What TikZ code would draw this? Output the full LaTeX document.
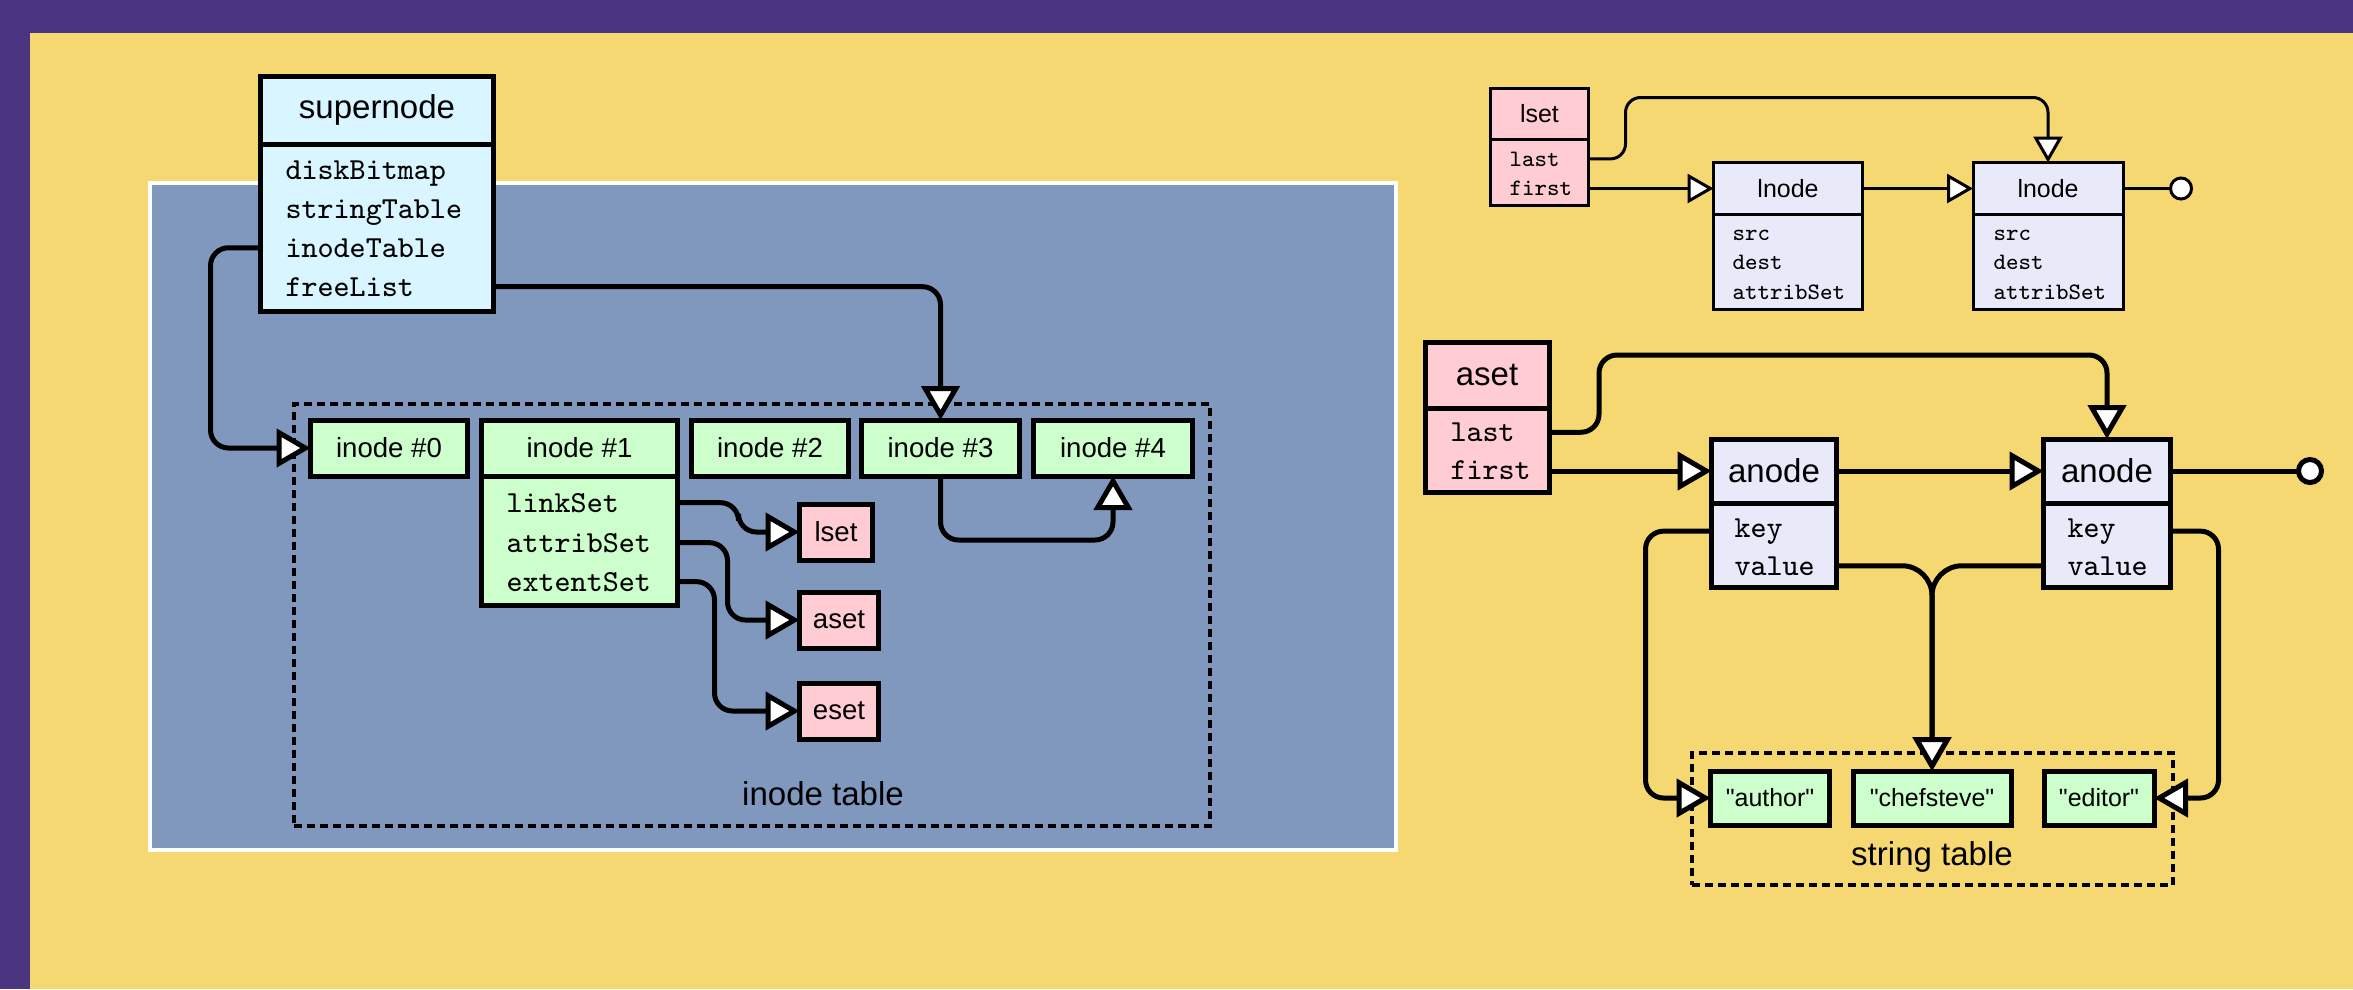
\documentclass[tikz,border=0pt]{standalone}
\usepackage{fontspec}
\setmainfont{Liberation Sans}[Ligatures=TeXOff]
\usetikzlibrary{positioning,arrows.meta}

\definecolor{bgpurple}{RGB}{75,52,128}
\definecolor{bgyellow}{RGB}{245,216,114}
\definecolor{panelblue}{RGB}{128,151,190}
\definecolor{nodegreen}{RGB}{204,255,204}
\definecolor{setpink}{RGB}{255,204,212}
\definecolor{supercyan}{RGB}{217,245,255}
\definecolor{linklav}{RGB}{232,234,250}

\newcommand{\bigtxt}{\fontsize{9.4pt}{11pt}\selectfont}
\newcommand{\midtxt}{\fontsize{7.85pt}{9pt}\selectfont}
\newcommand{\smalltxt}{\fontsize{7.1pt}{8.5pt}\selectfont}
\newcommand{\fieldtxt}{\ttfamily\fontsize{8.7pt}{10pt}\selectfont}
\newcommand{\sfieldtxt}{\ttfamily\fontsize{6.7pt}{8pt}\selectfont}

\begin{document}
\begin{tikzpicture} [line width = 0.05cm,
  box/.style = {draw, outer sep = 0pt, inner sep = 0pt},
  sbox/.style = {box, line width = 0.03cm},
  hdr/.style = {box, minimum height = 0.56cm, font = \midtxt},
  fld/.style = {inner sep = 0pt, anchor = base west, font = \fieldtxt},
  sfld/.style = {inner sep = 0pt, anchor = base west, font = \sfieldtxt},
  tblbox/.style = {draw, line width = 0.04cm, dash pattern = on 0.08cm off 0.05cm, outer sep = 0pt, inner sep = 0pt},
  link/.style = {rounded corners = 0.18cm, -{Triangle[fill=white,length=0.34cm,width=0.38cm]}},
  slink/.style = {line width = 0.03cm, rounded corners = 0.15cm, -{Triangle[fill=white,length=0.26cm,width=0.29cm]}},
  term/.style = {-{Circle[fill=white,length=0.28cm]}},
  sterm/.style = {line width = 0.03cm, -{Circle[fill=white,length=0.24cm]}}]

\useasboundingbox (0,0) rectangle (23.53,-9.89);
\fill [bgpurple] (0,0) rectangle (23.53,-9.89);
\fill [bgyellow] (0.30,-0.33) rectangle (23.53,-9.89);
\draw [white, line width = 0.04cm, fill = panelblue] (1.50,-1.83) rectangle (13.96,-8.50);

\node [tblbox, minimum width = 9.16cm, minimum height = 4.22cm] (itab) at (7.52,-6.15) {};
\node [font = \bigtxt] (itablbl) at (8.23,-7.94) {inode table};

\node [box, fill = supercyan, minimum width = 2.33cm, minimum height = 0.68cm, font = \bigtxt] (super) at (3.77,-1.10) {supernode};
\node [box, fill = supercyan, minimum width = 2.33cm, minimum height = 1.67cm] (superf) [below = 0pt of super] {};
\node [fld] (dbm) at (2.83,-1.79) {diskBitmap};
\node [fld] (stt) at (2.83,-2.18) {stringTable};
\node [fld] (itb) at (2.83,-2.57) {inodeTable};
\node [fld] (frl) at (2.83,-2.96) {freeList};

\node [hdr, fill = nodegreen, minimum width = 1.57cm] (ino0) at (3.89,-4.48) {inode \#0};
\node [hdr, fill = nodegreen, minimum width = 1.96cm] (ino1) [right = 0.14cm of ino0] {inode \#1};
\node [hdr, fill = nodegreen, minimum width = 1.57cm] (ino2) [right = 0.14cm of ino1] {inode \#2};
\node [hdr, fill = nodegreen, minimum width = 1.58cm] (ino3) [right = 0.13cm of ino2] {inode \#3};
\node [hdr, fill = nodegreen, minimum width = 1.59cm] (ino4) [right = 0.14cm of ino3] {inode \#4};

\node [box, fill = nodegreen, minimum width = 1.96cm, minimum height = 1.29cm] (ino1f) [below = 0pt of ino1] {};
\node [fld] (lnk) at (5.04,-5.12) {linkSet};
\node [fld] (atb) at (5.04,-5.52) {attribSet};
\node [fld] (ext) at (5.04,-5.91) {extentSet};

\node [hdr, fill = setpink, minimum width = 0.73cm] (lset) at (8.36,-5.32) {lset};
\node [hdr, fill = setpink, minimum width = 0.79cm] (aset) at (8.39,-6.20) {aset};
\node [hdr, fill = setpink, minimum width = 0.79cm] (eset) at (8.39,-7.11) {eset};

\draw [link] (superf.west |- itb) -- ++(-0.50,0) |- (ino0);
\draw [link] (superf.east |- frl) -| (ino3);
\draw [link] (ino3.south) -- ++(0,-0.64) -| (ino4);
\draw [link] (ino1f.east |- lnk) -- ++(0.61,0) |- (lset);
\draw [link] (ino1f.east |- atb) -- ++(0.50,0) |- (aset);
\draw [link] (ino1f.east |- ext) -- ++(0.37,0) |- (eset);

\node [sbox, fill = setpink, minimum width = 0.98cm, minimum height = 0.51cm, font = \smalltxt] (ls) at (15.395,-1.14) {lset};
\node [sbox, fill = setpink, minimum width = 0.98cm, minimum height = 0.66cm] (lsf) [below = 0pt of ls] {};
\node [sfld] (lslast) at (15.07,-1.66) {last};
\node [sfld] (lsfirst) at (15.07,-1.95) {first};

\node [sbox, fill = linklav, minimum width = 1.49cm, minimum height = 0.52cm, font = \smalltxt] (ln1) at (17.88,-1.885) {lnode};
\node [sbox, fill = linklav, minimum width = 1.49cm, minimum height = 0.95cm] (ln1f) [below = 0pt of ln1] {};
\node [sfld] (ln1src) at (17.30,-2.40) {src};
\node [sfld] (ln1dst) at (17.30,-2.69) {dest};
\node [sfld] (ln1atb) at (17.30,-2.99) {attribSet};

\node [sbox, fill = linklav, minimum width = 1.50cm, minimum height = 0.52cm, font = \smalltxt] (ln2) [right = 1.105cm of ln1] {lnode};
\node [sbox, fill = linklav, minimum width = 1.50cm, minimum height = 0.95cm] (ln2f) [below = 0pt of ln2] {};
\node [sfld] (ln2src) at (19.91,-2.40) {src};
\node [sfld] (ln2dst) at (19.91,-2.69) {dest};
\node [sfld] (ln2atb) at (19.91,-2.99) {attribSet};

\coordinate (lend) at (21.93,-1.885);

\draw [slink] (ln1.west -| lsf.east) -- (ln1);
\path (ln1) edge [slink] (ln2);
\path (ln2) edge [sterm] (lend);
\draw [slink] (lsf.east |- lslast) -- ++(0.37,0) |- ([yshift = 0.65cm]ln2.north) -- (ln2);

\node [box, fill = setpink, minimum width = 1.24cm, minimum height = 0.66cm, font = \bigtxt] (as) at (14.87,-3.75) {aset};
\node [box, fill = setpink, minimum width = 1.24cm, minimum height = 0.84cm] (asf) [below = 0pt of as] {};
\node [fld] (aslast) at (14.48,-4.415) {last};
\node [fld] (asfirst) at (14.48,-4.79) {first};

\node [box, fill = linklav, minimum width = 1.25cm, minimum height = 0.64cm, font = \bigtxt] (an1) at (17.74,-4.71) {anode};
\node [box, fill = linklav, minimum width = 1.25cm, minimum height = 0.84cm] (an1f) [below = 0pt of an1] {};
\node [fld] (akey1) at (17.32,-5.37) {key};
\node [fld] (aval1) at (17.32,-5.75) {value};

\node [box, fill = linklav, minimum width = 1.27cm, minimum height = 0.64cm, font = \bigtxt] (an2) [right = 2.07cm of an1] {anode};
\node [box, fill = linklav, minimum width = 1.27cm, minimum height = 0.84cm] (an2f) [below = 0pt of an2] {};
\node [fld] (akey2) at (20.65,-5.37) {key};
\node [fld] (aval2) at (20.65,-5.75) {value};

\node [tblbox, minimum width = 4.81cm, minimum height = 1.32cm] (stab) at (19.325,-8.19) {};
\node [font = \bigtxt] (stablbl) at (19.32,-8.57) {string table};

\node [box, fill = nodegreen, minimum width = 1.19cm, minimum height = 0.54cm, font = \smalltxt] (sauth) at (17.70,-7.98) {"author"};
\node [box, fill = nodegreen, minimum width = 1.58cm, minimum height = 0.54cm, font = \smalltxt] (schef) [right = 0.235cm of sauth] {"chefsteve"};
\node [box, fill = nodegreen, minimum width = 1.10cm, minimum height = 0.54cm, font = \smalltxt] (sedit) [right = 0.33cm of schef] {"editor"};

\coordinate (aend) at (23.24,-4.71);

\draw [link] (an1.west -| asf.east) -- (an1);
\path (an1) edge [link] (an2);
\path (an2) edge [term] (aend);
\draw [link] (asf.east |- aslast) -- ++(0.50,0) |- ([yshift = 0.84cm]an2.north) -- (an2);

\draw [link] (an1f.west |- akey1) -- ++(-0.66,0) |- (sauth);
\draw [link, rounded corners = 0.3cm] (an1f.east |- aval1) -| (schef);
\draw [link, rounded corners = 0.3cm] (an2f.west |- aval2) -| (schef);
\draw [link] (an2f.east |- akey2) -- ++(0.48,0) |- (sedit);

\end{tikzpicture}
\end{document}
